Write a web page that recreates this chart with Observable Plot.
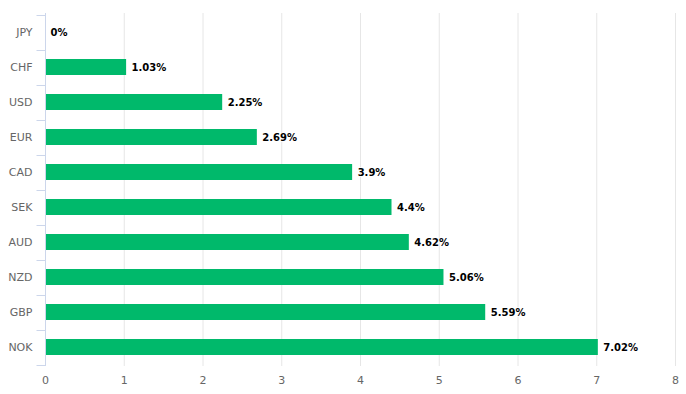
<!DOCTYPE html>
<html><head><meta charset="utf-8">
<script src="https://cdn.jsdelivr.net/npm/d3@7"></script>
<script src="https://cdn.jsdelivr.net/npm/@observablehq/plot@0.6"></script>
<style>body{margin:0;background:#fff}</style>
</head><body><div id="chart"></div>
<script>
const currencies = ["JPY","CHF","USD","EUR","CAD","SEK","AUD","NZD","GBP","NOK"];
const values = [0, 1.03, 2.25, 2.69, 3.9, 4.4, 4.62, 5.06, 5.59, 7.02];
const xTicks = [0,1,2,3,4,5,6,7,8];
const gridTicks = [1,2,3,4,5,6,7,8];
const data = currencies.map((c,i)=>({currency:c, value:values[i]}));

function categoryTicks(index, scales, values, dimensions) {
  const y = scales.y;
  const bw = y.bandwidth();
  const step = y(currencies[1]) - y(currencies[0]);
  const g = d3.create("svg:g").attr("stroke", "#ccd6eb").attr("stroke-width", 1);
  const x0 = dimensions.marginLeft + 0.5;
  const bounds = currencies.map(c => y(c) + bw/2 - step/2);
  bounds.push(y(currencies[currencies.length-1]) + bw/2 + step/2);
  for (const b of bounds) {
    const yy = Math.round(b) + 0.5;
    g.append("line").attr("x1", x0 - 9).attr("x2", x0).attr("y1", yy).attr("y2", yy);
  }
  g.append("line").attr("x1", x0).attr("x2", x0)
    .attr("y1", dimensions.marginTop).attr("y2", dimensions.height - dimensions.marginBottom);
  return g.node();
}

const chart = Plot.plot({
  width: 686,
  height: 394,
  marginLeft: 45,
  marginRight: 11,
  marginTop: 13,
  marginBottom: 28,
  style: {fontFamily: "'DejaVu Sans', sans-serif", fontSize: "11px", background: "#fff"},
  x: {domain: [0, 8], ticks: xTicks, tickSize: 0, tickPadding: 10, label: null},
  y: {domain: currencies, paddingInner: 0.55, paddingOuter: 0.275, tickSize: 0, tickPadding: 13, label: null},
  marks: [
    Plot.ruleX(gridTicks, {x: d => d, stroke: "#e6e6e6", strokeWidth: 1}),
    Plot.barX(data, {y: "currency", x1: 0, x2: "value", fill: "#00b96b"}),
    Plot.text(data, {y: "currency", x: "value", text: d => `${d.value}%`, textAnchor: "start", dx: 5,
      fontWeight: "bold", fontSize: 10, fill: "#000", stroke: "#fff", strokeWidth: 1.5}),
    categoryTicks,
    Plot.axisX({ticks: xTicks, tickSize: 0, tickPadding: 10, fill: "#666", label: null}),
    Plot.axisY({tickSize: 0, tickPadding: 13, fill: "#666", label: null})
  ]
});
document.getElementById("chart").append(chart);
</script>
</body></html>
